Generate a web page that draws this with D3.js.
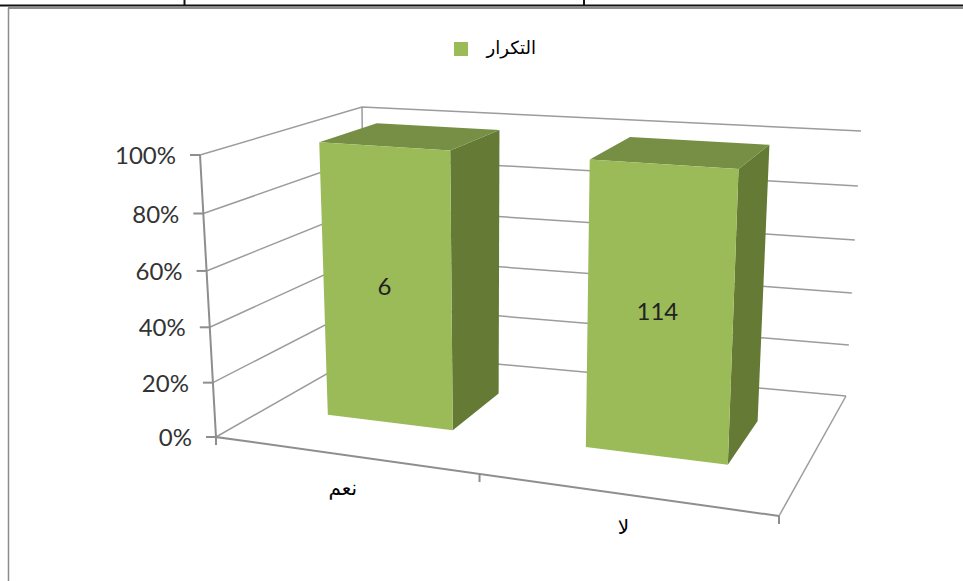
<!DOCTYPE html>
<html>
<head>
<meta charset="utf-8">
<script src="https://cdn.jsdelivr.net/npm/d3@7"></script>
<style>
  html, body { margin: 0; padding: 0; background: #fff; }
  svg { display: block; }
  .pct { font-family: Lato, "Open Sans", sans-serif; font-size: 24px; fill: #333; }
  .val { font-family: Lato, "Open Sans", sans-serif; font-size: 24px; fill: #222; }
  .ar { font-family: "DejaVu Sans", sans-serif; fill: #000; }
</style>
</head>
<body>
<div id="chart"></div>
<script>
var categories = ["نعم", "لا"];
var counts = [6, 114];
var shares = [100, 100];
var yTicks = [0, 20, 40, 60, 80, 100];
var seriesName = "التكرار";

var width = 963, height = 581;

// screen corners of the 3d box: f = front, b = back, l/r = left/right, 0/1 = floor/top
var box = {
    fl0: [216, 437], fr0: [779, 516], bl0: [365, 352], br0: [846, 396],
    fl1: [200, 155], fr1: [793, 197], bl1: [362, 107], br1: [861, 131]
};
var nearWeight = 0.88; // right side is nearer to the camera
var topWeight = 0.955; // floor is nearer than the top

var xBand = d3.scaleBand().domain(categories).range([0, 1]).paddingInner(0.5).paddingOuter(0.25);
var y = d3.scaleLinear().domain([0, 100]).range([0, 1]);
var depth = d3.scaleLinear().domain([0, 1]).range([0.35, 0.73]); // bar depth inside the box

function mix(a, b, t) {
    return [a[0] + (b[0] - a[0]) * t, a[1] + (b[1] - a[1]) * t];
}

// u along category axis, v up, d into the page
function project(u, v, d) {
    var t = u * nearWeight / ((1 - u) + u * nearWeight);
    var s = v * topWeight / ((1 - v) + v * topWeight);
    var f0 = mix(box.fl0, box.fr0, t), f1 = mix(box.fl1, box.fr1, t);
    var b0 = mix(box.bl0, box.br0, t), b1 = mix(box.bl1, box.br1, t);
    return mix(mix(f0, b0, d), mix(f1, b1, d), s);
}

var svg = d3.select("#chart").append("svg")
    .attr("width", width)
    .attr("height", height);

// page table lines above the chart, and the chart frame
var frame = svg.append("g");
frame.append("line").attr("x1", 0).attr("x2", width).attr("y1", 5.5).attr("y2", 5.5)
    .attr("stroke", "#111").attr("stroke-width", 2);
[184.5, 584].forEach(function(x) {
    frame.append("line").attr("x1", x).attr("x2", x).attr("y1", 0).attr("y2", 6)
        .attr("stroke", "#111").attr("stroke-width", 2);
});
frame.append("line").attr("x1", 8).attr("x2", width).attr("y1", 8).attr("y2", 8)
    .attr("stroke", "#8c8c8c").attr("stroke-width", 2);
frame.append("line").attr("x1", 8.5).attr("x2", 8.5).attr("y1", 8).attr("y2", height)
    .attr("stroke", "#8c8c8c").attr("stroke-width", 1.5);

var line = d3.line();
var grid = svg.append("g").attr("fill", "none").attr("stroke", "#9c9c9c").attr("stroke-width", 1.5);

// gridlines on left wall and back wall
yTicks.forEach(function(t) {
    var v = y(t);
    grid.append("path").attr("d", line([project(0, v, 0), project(0, v, 1), project(1, v, 1)]));
});
grid.append("path").attr("d", line([project(0, 0, 1), project(0, 1, 1)]));

// floor
grid.append("path").attr("d", line([project(1, 0, 1), project(1, 0, 0)]));

// axes
var axes = svg.append("g").attr("fill", "none").attr("stroke", "#8e8e8e").attr("stroke-width", 2);
axes.append("path").attr("d", line([project(0, 1, 0), project(0, 0, 0), project(1, 0, 0)]));
yTicks.forEach(function(t) {
    var p = project(0, y(t), 0);
    axes.append("path").attr("d", line([[p[0] - 10, p[1]], p]));
});
[0, 0.5, 1].forEach(function(u) {
    var p = project(u, 0, 0);
    axes.append("path").attr("d", line([p, [p[0], p[1] + 8]]));
});

svg.append("g").selectAll("text")
    .data(yTicks)
    .join("text")
    .attr("class", "pct")
    .attr("text-anchor", "end")
    .attr("x", function(d) { return project(0, y(d), 0)[0] - 24; })
    .attr("y", function(d) { return project(0, y(d), 0)[1] + 9; })
    .text(function(d) { return d + "%"; });

// bars
var colors = { front: "#9bbb59", side: "#647a35", top: "#778f44" };

categories.forEach(function(c, i) {
    var u0 = xBand(c), u1 = u0 + xBand.bandwidth();
    var v = y(shares[i]);
    var d0 = depth(0), d1 = depth(1);
    var g = svg.append("g");

    g.append("path").attr("fill", colors.side)
        .attr("d", line([project(u1, 0, d0), project(u1, v, d0), project(u1, v, d1), project(u1, 0, d1)]) + "Z");
    g.append("path").attr("fill", colors.top)
        .attr("d", line([project(u0, v, d0), project(u0, v, d1), project(u1, v, d1), project(u1, v, d0)]) + "Z");
    g.append("path").attr("fill", colors.front)
        .attr("d", line([project(u0, 0, d0), project(u0, v, d0), project(u1, v, d0), project(u1, 0, d0)]) + "Z");

    var p = mix(project(u0, v / 2, d0), project(u1, v / 2, d0), 0.5);
    g.append("text").attr("class", "val")
        .attr("text-anchor", "middle")
        .attr("x", p[0] - 3)
        .attr("y", p[1] + 7)
        .text(counts[i]);

    // category label below the front floor edge
    var q = project(u0 + xBand.bandwidth() / 2, 0, 0);
    svg.append("text").attr("class", "ar")
        .attr("text-anchor", "middle")
        .attr("font-size", 20)
        .attr("x", q[0] - 1)
        .attr("y", q[1] + 40)
        .text(c);
});

// legend
svg.append("rect").attr("x", 454).attr("y", 42).attr("width", 14).attr("height", 14).attr("fill", colors.front);
svg.append("text").attr("class", "ar")
    .attr("font-size", 18)
    .attr("text-anchor", "end")
    .attr("x", 536)
    .attr("y", 54)
    .text(seriesName);
</script>
</body>
</html>
